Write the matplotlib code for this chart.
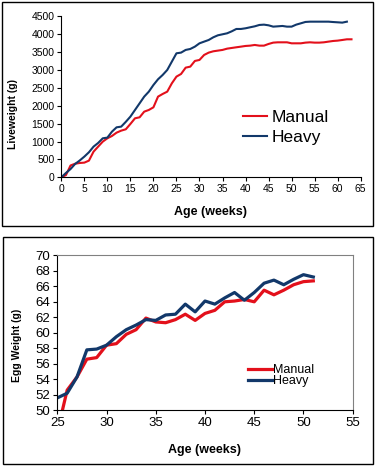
import matplotlib
matplotlib.use("Agg")
import matplotlib.pyplot as plt
from matplotlib.patches import Rectangle

plt.rcParams['font.family'] = ['Liberation Sans', 'DejaVu Sans']

# liveweight data (weeks 0..63)
lw_weeks_manual = list(range(0, 64))
lw_manual = [0, 60, 330, 380, 400, 410, 466, 717, 857, 997,
             1090, 1155, 1248, 1304, 1342, 1491, 1649, 1677, 1835, 1882,
             1956, 2255, 2329, 2394, 2627, 2814, 2888, 3065, 3093, 3252,
             3280, 3419, 3485, 3522, 3541, 3560, 3596, 3615, 3634, 3652,
             3671, 3680, 3699, 3680, 3680, 3727, 3764, 3773, 3773, 3773,
             3745, 3745, 3745, 3764, 3773, 3764, 3764, 3773, 3792, 3810,
             3820, 3838, 3857, 3857]
lw_weeks_heavy = list(range(0, 63))
lw_heavy = [0, 120, 230, 373, 470, 578, 700, 857, 960, 1090,
            1109, 1276, 1397, 1416, 1550, 1696, 1882, 2068, 2255, 2394,
            2580, 2740, 2860, 3000, 3233, 3466, 3485, 3560, 3587, 3652,
            3745, 3792, 3838, 3913, 3969, 3997, 4025, 4080, 4146, 4146,
            4165, 4193, 4220, 4258, 4267, 4248, 4211, 4220, 4230, 4211,
            4211, 4267, 4304, 4342, 4350, 4350, 4350, 4350, 4350, 4340,
            4332, 4323, 4350]

# egg weight data (weeks 25..51)
egg_weeks = list(range(25, 52))
egg_manual = [47.2, 52.6, 54.3, 56.6, 56.8, 58.4, 58.6, 59.8, 60.4, 61.9,
              61.4, 61.3, 61.7, 62.4, 61.6, 62.5, 62.9, 64.0, 64.1, 64.3,
              64.0, 65.5, 64.9, 65.5, 66.2, 66.6, 66.7]
egg_heavy = [51.6, 52.2, 54.3, 57.8, 57.9, 58.4, 59.5, 60.4, 61.0, 61.7,
             61.6, 62.3, 62.4, 63.7, 62.7, 64.1, 63.7, 64.5, 65.2, 64.2,
             65.2, 66.4, 66.8, 66.2, 66.9, 67.5, 67.2]

RED = '#e3101b'
NAVY = '#12386a'
W, H = 377, 467

fig = plt.figure(figsize=(W / 100, H / 100), dpi=100)

def fx(px):
    return px / W

def fy(py):
    return 1 - py / H

# panel frames
fig.patches.append(Rectangle((fx(2), fy(226)), fx(371), (224) / H, transform=fig.transFigure,
                             fill=False, edgecolor='black', linewidth=1))
fig.patches.append(Rectangle((fx(2.5), fy(464)), fx(370.5), (227) / H, transform=fig.transFigure,
                             fill=False, edgecolor='black', linewidth=1))

# top chart
ax1 = fig.add_axes([fx(61.3), fy(177.3), fx(299.4), 161 / H])
ax1.plot(lw_weeks_manual, lw_manual, color=RED, lw=1.5, label='Manual')
ax1.plot(lw_weeks_heavy, lw_heavy, color=NAVY, lw=1.5, label='Heavy')
ax1.set_xlim(0, 65)
ax1.set_ylim(0, 4500)
ax1.set_xticks(range(0, 66, 5))
ax1.set_yticks(range(0, 4501, 500))
ax1.spines['top'].set_visible(False)
ax1.spines['right'].set_visible(False)
ax1.tick_params(labelsize=7.5, length=3, width=0.8, pad=2)
ax1.legend(loc='center left', bbox_to_anchor=(0.607, 0.309), frameon=False,
           fontsize=12.5, handlelength=1.4, handletextpad=0.25, labelspacing=0.25,
           borderpad=0, borderaxespad=0)
fig.text(fx(210), fy(212), 'Age (weeks)', ha='center', va='center',
         fontsize=9, fontweight='bold')
fig.text(fx(13), fy(114), 'Liveweight (g)', ha='center', va='center',
         rotation=90, fontsize=7.5, fontweight='bold')

# bottom chart
ax2 = fig.add_axes([fx(57.3), fy(410.3), fx(295.4), 155 / H])
ax2.plot(egg_weeks, egg_manual, color=RED, lw=2.3, label='Manual')
ax2.plot(egg_weeks, egg_heavy, color=NAVY, lw=2.3, label='Heavy')
ax2.set_xlim(25, 55)
ax2.set_ylim(50, 70)
ax2.set_xticks(range(25, 56, 5))
ax2.set_yticks(range(50, 71, 2))
ax2.spines['top'].set_color('#808080')
ax2.spines['right'].set_color('#808080')
ax2.tick_params(labelsize=9.5, length=3, width=0.8, pad=2)
ax2.legend(loc='center left', bbox_to_anchor=(0.6456, 0.2245), frameon=False,
           fontsize=9, handlelength=1.9, handletextpad=0.1, labelspacing=-0.1,
           borderpad=0, borderaxespad=0)
fig.text(fx(205), fy(450), 'Age (weeks)', ha='center', va='center',
         fontsize=9, fontweight='bold')
fig.text(fx(17), fy(345), 'Egg Weight (g)', ha='center', va='center',
         rotation=90, fontsize=7.5, fontweight='bold')

fig.savefig('out.png', dpi=100)
